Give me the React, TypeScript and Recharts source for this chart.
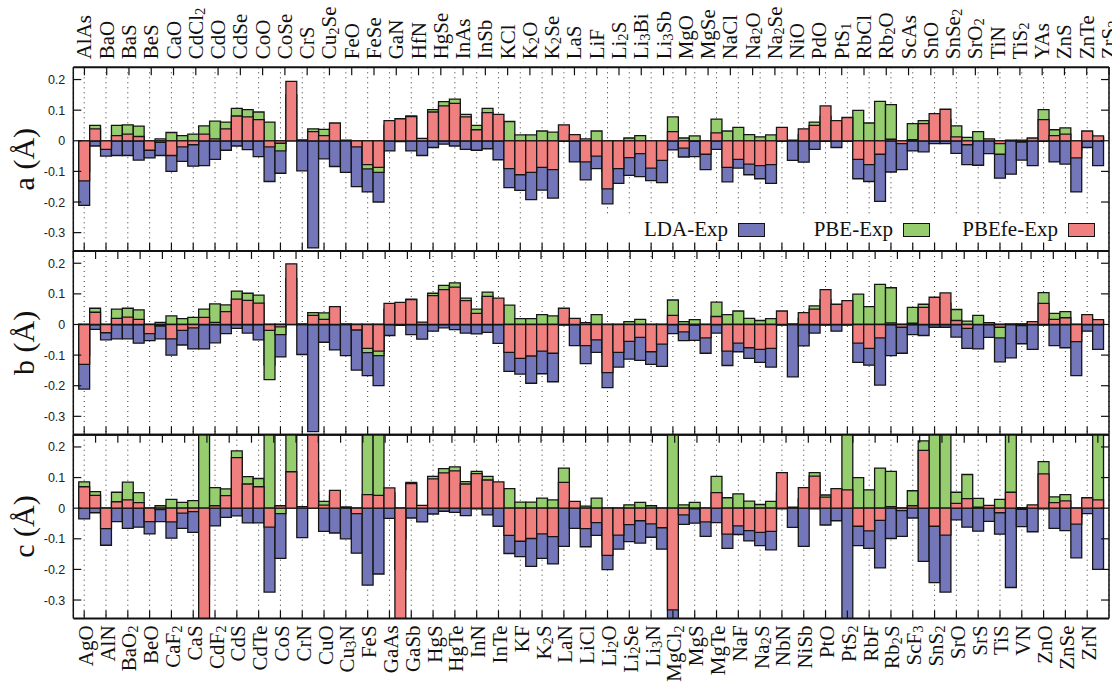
import { BarChart, Bar, XAxis, YAxis, CartesianGrid, Legend, Label } from 'recharts';

const COMPOUNDS = [
  'AgO', 'AlAs', 'AlN', 'BaO', 'BaO2', 'BaS', 'BeO', 'BeS', 'CaF2', 'CaO',
  'CaS', 'CdCl2', 'CdF2', 'CdO', 'CdS', 'CdSe', 'CdTe', 'CoO', 'CoS', 'CoSe',
  'CrN', 'CrS', 'CuO', 'Cu2Se', 'Cu3N', 'FeO', 'FeS', 'FeSe', 'GaAs', 'GaN',
  'GaSb', 'HfN', 'HgS', 'HgSe', 'HgTe', 'InAs', 'InN', 'InSb', 'InTe', 'KCl',
  'KF', 'K2O', 'K2S', 'K2Se', 'LaN', 'LaS', 'LiCl', 'LiF', 'Li2O', 'Li2S',
  'Li2Se', 'Li3Bi', 'Li3N', 'Li3Sb', 'MgCl2', 'MgO', 'MgS', 'MgSe', 'MgTe', 'NaCl',
  'NaF', 'Na2O', 'Na2S', 'Na2Se', 'NbN', 'NiO', 'NiSb', 'PdO', 'PtO', 'PtS1',
  'PtS2', 'RbCl', 'RbF', 'Rb2O', 'Rb2S', 'ScAs', 'ScF3', 'SnO', 'SnS2', 'SnSe2',
  'SrO', 'SrO2', 'SrS', 'TiN', 'TiS', 'TiS2', 'VN', 'YAs', 'ZnO', 'ZnS',
  'ZnSe', 'ZnTe', 'ZrN', 'ZrS2',
];

// panel a
const A_LDA = [
  -0.211, -0.017, -0.05, -0.048, -0.048, -0.063, -0.056, -0.048, -0.1, -0.067,
  -0.083, -0.081, -0.061, -0.031, -0.017, -0.029, -0.052, -0.133, -0.106, 0,
  -0.098, -0.35, -0.059, -0.084, -0.103, -0.15, -0.167, -0.2, -0.033, -0.003,
  -0.033, -0.048, -0.022, -0.011, -0.017, -0.028, -0.031, -0.026, -0.062, -0.153,
  -0.162, -0.192, -0.161, -0.187, -0.002, -0.069, -0.128, -0.091, -0.206, -0.139,
  -0.113, -0.117, -0.13, -0.137, -0.03, -0.053, -0.052, -0.094, -0.028, -0.134,
  -0.089, -0.111, -0.124, -0.139, -0.002, -0.064, -0.07, -0.028, -0.002, -0.022,
  -0.002, -0.124, -0.133, -0.198, -0.102, -0.094, -0.033, -0.036, -0.009, -0.009,
  -0.041, -0.078, -0.08, -0.042, -0.122, -0.109, -0.063, -0.081, -0.002, -0.069,
  -0.076, -0.167, -0.022, -0.081,
];
const A_PBE = [
  -0.1, 0.05, -0.02, 0.05, 0.052, 0.048, -0.02, 0.006, 0.027, 0.017,
  0.022, 0.049, 0.064, 0.061, 0.106, 0.102, 0.094, 0.061, -0.033, 0.15,
  0.003, 0.039, 0.037, 0.04, 0.002, -0.01, -0.092, -0.103, 0.05, 0.05,
  0.081, 0.005, 0.102, 0.128, 0.136, 0.086, 0.05, 0.106, 0.06, 0.063,
  0.019, 0.019, 0.032, 0.028, 0.03, 0.01, 0.006, 0.032, -0.1, -0.05,
  0.009, 0.017, -0.05, -0.03, 0.078, 0.009, 0.016, -0.02, 0.071, 0.032,
  0.044, 0.02, 0.013, 0.019, 0.02, 0.002, 0.02, 0.061, 0.08, 0.04,
  0.05, 0.099, 0.058, 0.129, 0.118, -0.005, 0.056, 0.066, 0.06, 0.07,
  0.049, 0.011, 0.03, 0.003, -0.044, 0.002, 0.002, 0.005, 0.102, 0.036,
  0.042, -0.03, 0.02, 0.01,
];
const A_PBEFE = [
  -0.131, 0.039, -0.028, 0.017, 0.022, 0.014, -0.031, -0.005, -0.048, -0.02,
  -0.013, 0.022, 0.006, 0.039, 0.081, 0.078, 0.069, -0.02, -0.008, 0.194,
  0, 0.03, 0.017, 0.058, 0, -0.02, -0.078, -0.087, 0.066, 0.072,
  0.079, 0.008, 0.094, 0.114, 0.122, 0.078, 0.036, 0.092, 0.086, -0.091,
  -0.111, -0.103, -0.087, -0.094, 0.052, 0.02, -0.069, -0.05, -0.157, -0.091,
  -0.055, -0.042, -0.089, -0.064, 0.03, -0.024, -0.002, -0.044, 0.026, -0.087,
  -0.061, -0.076, -0.081, -0.078, 0.044, 0, 0.039, 0.05, 0.114, 0.066,
  0.076, -0.061, -0.078, -0.044, 0.005, -0.009, 0.004, 0.056, 0.089, 0.103,
  0.013, -0.013, 0, 0.006, -0.009, 0, -0.004, 0.009, 0.069, 0.017,
  0.022, -0.056, 0.032, 0.016,
];

// panel b
const B_LDA = [
  -0.211, -0.016, -0.05, -0.047, -0.047, -0.061, -0.053, -0.047, -0.1, -0.067,
  -0.08, -0.08, -0.06, -0.03, -0.013, -0.028, -0.05, -0.133, -0.106, 0,
  -0.098, -0.35, -0.058, -0.083, -0.102, -0.149, -0.167, -0.2, -0.036, -0.003,
  -0.033, -0.048, -0.022, -0.011, -0.017, -0.028, -0.031, -0.026, -0.062, -0.153,
  -0.162, -0.192, -0.161, -0.187, -0.002, -0.069, -0.128, -0.091, -0.206, -0.139,
  -0.113, -0.117, -0.13, -0.137, -0.03, -0.053, -0.052, -0.094, -0.028, -0.134,
  -0.089, -0.111, -0.124, -0.139, -0.002, -0.171, -0.07, -0.028, -0.002, -0.022,
  -0.002, -0.124, -0.133, -0.198, -0.102, -0.094, -0.033, -0.036, -0.009, -0.009,
  -0.041, -0.078, -0.08, -0.042, -0.122, -0.109, -0.063, -0.081, -0.002, -0.069,
  -0.076, -0.167, -0.022, -0.081,
];
const B_PBE = [
  -0.1, 0.053, -0.02, 0.05, 0.053, 0.048, -0.02, 0.007, 0.028, 0.019,
  0.023, 0.05, 0.067, 0.064, 0.109, 0.102, 0.096, -0.18, -0.033, 0.15,
  0.002, 0.039, 0.038, 0.04, 0.002, -0.01, -0.092, -0.102, 0.05, 0.05,
  0.083, 0.005, 0.102, 0.128, 0.136, 0.086, 0.05, 0.106, 0.06, 0.063,
  0.019, 0.019, 0.032, 0.028, 0.03, 0.01, 0.006, 0.032, -0.1, -0.05,
  0.009, 0.017, -0.05, -0.03, 0.08, 0.009, 0.016, -0.02, 0.073, 0.032,
  0.044, 0.02, 0.013, 0.019, 0.02, 0.002, 0.02, 0.061, 0.08, 0.04,
  0.05, 0.099, 0.058, 0.131, 0.12, -0.005, 0.056, 0.066, 0.06, 0.07,
  0.049, 0.011, 0.03, 0.003, -0.044, 0.002, 0.002, 0.005, 0.104, 0.036,
  0.042, -0.03, 0.02, 0.01,
];
const B_PBEFE = [
  -0.13, 0.04, -0.027, 0.02, 0.024, 0.017, -0.03, -0.005, -0.047, -0.019,
  -0.011, 0.023, 0.007, 0.042, 0.083, 0.079, 0.07, -0.019, -0.008, 0.198,
  0, 0.03, 0.017, 0.058, 0, -0.018, -0.078, -0.087, 0.069, 0.072,
  0.081, 0.008, 0.094, 0.114, 0.122, 0.078, 0.036, 0.092, 0.086, -0.091,
  -0.111, -0.103, -0.087, -0.094, 0.053, 0.02, -0.069, -0.05, -0.157, -0.091,
  -0.055, -0.042, -0.089, -0.064, 0.03, -0.024, -0.002, -0.044, 0.026, -0.087,
  -0.061, -0.076, -0.081, -0.078, 0.044, 0, 0.039, 0.05, 0.114, 0.066,
  0.078, -0.061, -0.078, -0.044, 0.005, -0.009, 0.004, 0.056, 0.089, 0.103,
  0.013, -0.013, 0, 0.006, -0.009, 0, -0.004, 0.009, 0.069, 0.017,
  0.022, -0.056, 0.032, 0.016,
];

// panel c
const C_LDA = [
  -0.035, -0.015, -0.121, -0.044, -0.066, -0.062, -0.084, -0.044, -0.098, -0.066,
  -0.079, -0.25, -0.058, -0.03, -0.025, -0.048, -0.048, -0.274, -0.164, 0,
  -0.096, 0.05, -0.076, -0.081, -0.1, -0.147, -0.251, -0.215, -0.033, -0.1,
  -0.032, -0.045, -0.019, -0.01, -0.014, -0.024, -0.002, -0.022, -0.059, -0.148,
  -0.158, -0.19, -0.164, -0.182, -0.125, -0.066, -0.126, -0.089, -0.201, -0.134,
  -0.109, -0.114, -0.095, -0.134, -0.4, -0.053, -0.049, -0.092, -0.047, -0.131,
  -0.086, -0.107, -0.122, -0.136, -0.002, -0.063, -0.125, -0.002, -0.055, -0.041,
  -0.4, -0.122, -0.131, -0.195, -0.099, -0.092, -0.032, -0.174, -0.243, -0.274,
  -0.038, -0.062, -0.075, -0.043, -0.085, -0.259, -0.06, -0.077, -0.002, -0.066,
  -0.073, -0.162, -0.018, -0.2,
];
const C_PBE = [
  0.086, 0.054, -0.03, 0.052, 0.085, 0.051, -0.02, 0.008, 0.029, 0.019,
  0.025, 0.45, 0.067, 0.063, 0.187, 0.103, 0.097, 0.4, -0.018, 0.35,
  0.005, 0.15, 0.022, 0.04, 0.004, -0.01, 0.4, 0.4, 0.05, -0.2,
  0.084, 0.005, 0.104, 0.129, 0.135, 0.087, 0.12, 0.104, 0.06, 0.064,
  0.02, 0.02, 0.033, 0.027, 0.131, 0.01, 0.007, 0.033, -0.1, -0.05,
  0.011, 0.019, 0.008, -0.03, 0.4, 0.011, 0.019, -0.02, 0.104, 0.034,
  0.047, 0.023, 0.012, 0.022, 0.05, 0.003, 0.03, 0.116, 0.043, 0.03,
  0.4, 0.1, 0.06, 0.131, 0.12, -0.004, 0.057, 0.22, 0.4, 0.4,
  0.052, 0.11, 0.032, 0.005, 0.029, 0.4, 0.002, 0.006, 0.152, 0.037,
  0.044, -0.03, 0.02, 0.4,
];
const C_PBEFE = [
  0.07, 0.042, -0.067, 0.021, 0.027, 0.018, -0.044, -0.005, -0.045, -0.016,
  -0.011, -0.45, 0.008, 0.041, 0.165, 0.079, 0.07, -0.062, 0.008, 0.119,
  0, 0.4, 0.01, 0.058, 0, -0.018, 0.044, 0.042, 0.066, -0.45,
  0.08, 0.009, 0.096, 0.115, 0.122, 0.079, 0.113, 0.092, 0.086, -0.089,
  -0.108, -0.099, -0.084, -0.093, 0.084, 0.022, -0.067, -0.047, -0.154, -0.088,
  -0.054, -0.041, -0.051, -0.064, -0.332, -0.022, -0.002, -0.045, 0.051, -0.085,
  -0.058, -0.073, -0.079, -0.076, 0.116, 0, 0.067, 0.105, 0.036, 0.064,
  0.06, -0.059, -0.074, -0.04, 0.005, -0.008, 0.008, 0.189, -0.059, -0.088,
  0.016, 0.031, 0.003, 0.009, -0.015, 0.052, -0.004, 0.011, 0.112, 0.018,
  0.024, -0.052, 0.034, 0.027,
];

const Y_TICKS = [-0.3, -0.2, -0.1, 0, 0.1, 0.2];
const EVEN_TICKS = COMPOUNDS.map((_, i) => i).filter((i) => i % 2 === 0);
const ODD_TICKS = COMPOUNDS.map((_, i) => i).filter((i) => i % 2 === 1);

const W = 1112;
const H = 686;
const LEFT = 73.3;
const RIGHT = 3;
const PANEL_H = 183.7;
const BAND = (W - LEFT - RIGHT) / 95;
const BAR = BAND - 0.02;
const AX = 1; // axis box thickness (a zero-size axis is not drawn)

const BLUE = '#7376b9';
const GREEN = '#96cd6e';
const RED = '#f08080';
const SERIF = '"Liberation Serif", "Times New Roman", serif';
const SANS = '"Liberation Sans", Arial, sans-serif';

function FormulaText({ x, y, anchor, text, size }: any) {
  const parts = text.split(/(\d+)/).filter((p: string) => p.length);
  let shift = 0;
  return (
    <text
      transform={`translate(${x},${y}) rotate(-90)`}
      textAnchor={anchor}
      fontFamily={SERIF}
      fontSize={size}
      fill="#111"
    >
      {parts.map((p: string, k: number) => {
        const sub = /^\d+$/.test(p);
        const target = sub ? size * 0.1 : 0;
        const dy = target - shift;
        shift = target;
        return (
          <tspan key={k} dy={dy} fontSize={sub ? size * 0.7 : size}>
            {p}
          </tspan>
        );
      })}
    </text>
  );
}

function BottomTick(props: any) {
  const { x, y, payload, showLabel } = props;
  return (
    <g>
      <line x1={x} x2={x} y1={y} y2={y - 8} stroke="#111" strokeWidth={1.2} />
      {showLabel && (
        <FormulaText x={x + 8.5} y={y + 7} anchor="end" text={COMPOUNDS[payload.value]} size={21} />
      )}
    </g>
  );
}

function TopTick(props: any) {
  const { x, y, payload, showLabel } = props;
  return (
    <g>
      <line x1={x} x2={x} y1={y} y2={y + 8} stroke="#111" strokeWidth={1.2} />
      {showLabel && (
        <FormulaText x={x + 7} y={y - 8} anchor="start" text={COMPOUNDS[payload.value]} size={21} />
      )}
    </g>
  );
}

function fmtY(v: number) {
  const r = Math.round(v * 10) / 10;
  return r === 0 ? '0' : String(r);
}

function LeftTick(props: any) {
  const { x, y, payload } = props;
  return (
    <g>
      <line x1={x} x2={x + 8} y1={y} y2={y} stroke="#111" strokeWidth={1.2} />
      <text x={x - 8} y={y} dy="0.36em" textAnchor="end" fontFamily={SANS} fontSize={12.5} fill="#222">
        {fmtY(payload.value)}
      </text>
    </g>
  );
}

function RightTick(props: any) {
  const { x, y } = props;
  return <line x1={x} x2={x - 8} y1={y} y2={y} stroke="#111" strokeWidth={1.2} />;
}

function YTitle(props: any) {
  const vb = props.viewBox || { x: LEFT - AX, y: 0, width: AX, height: PANEL_H };
  const cy = vb.y + vb.height / 2;
  const ax = vb.x + (vb.width || 0);
  return (
    <text
      transform={`translate(${ax - 39},${cy}) rotate(-90)`}
      textAnchor="middle"
      fontFamily={SERIF}
      fontSize={30}
      fill="#111"
    >
      {props.text}
    </text>
  );
}

function LegendBox({ payload }: any) {
  return (
    <div
      style={{
        background: '#fff',
        width: 518,
        height: 25,
        display: 'flex',
        alignItems: 'center',
        paddingLeft: 10,
        boxSizing: 'border-box',
      }}
    >
      {(payload || []).map((e: any) => (
        <div
          key={e.value}
          style={{ width: 165, display: 'flex', justifyContent: 'flex-end', alignItems: 'center' }}
        >
          <span style={{ fontFamily: SERIF, fontSize: 21, color: '#111', marginRight: 10, lineHeight: '21px' }}>
            {e.value}
          </span>
          <span
            style={{
              display: 'inline-block',
              width: 27,
              height: 14,
              background: e.color,
              border: '1.3px solid #111',
              boxSizing: 'border-box',
            }}
          />
        </div>
      ))}
    </div>
  );
}

interface PanelProps {
  title: string;
  top: number;
  lda: number[];
  pbe: number[];
  pbefe: number[];
  topLabels?: boolean;
  bottomLabels?: boolean;
  legend?: boolean;
}

function Panel({ title, top, lda, pbe, pbefe, topLabels, bottomLabels, legend }: PanelProps) {
  const rows = COMPOUNDS.map((name, i) => ({
    idx: i,
    name,
    lda: lda[i],
    pbe: pbe[i],
    pbefe: pbefe[i],
  }));
  const bottom = H - top - PANEL_H;
  return (
    <div style={{ position: 'absolute', left: 0, top: 0 }}>
      <BarChart
        width={W}
        height={H}
        data={rows}
        margin={{ top: top - AX, right: RIGHT - AX, bottom: bottom - AX, left: LEFT - AX }}
        barSize={BAR}
        barGap={-BAR}
      >
        <CartesianGrid vertical horizontal={false} stroke="#333" strokeDasharray="1 4" />
        <XAxis
          dataKey="idx"
          type="number"
          domain={[-1, 94]}
          allowDataOverflow
          ticks={EVEN_TICKS}
          interval={0}
          height={AX}
          tickSize={0}
          tickMargin={0}
          tickLine={false}
          axisLine={{ stroke: '#111', strokeWidth: 2 }}
          tick={<BottomTick showLabel={!!bottomLabels} />}
        />
        <XAxis
          xAxisId="top"
          orientation="top"
          type="number"
          domain={[-1, 94]}
          allowDataOverflow
          ticks={topLabels ? ODD_TICKS : EVEN_TICKS}
          interval={0}
          height={AX}
          tickSize={0}
          tickMargin={0}
          tickLine={false}
          axisLine={{ stroke: '#111', strokeWidth: 2 }}
          tick={<TopTick showLabel={!!topLabels} />}
        />
        <YAxis
          type="number"
          domain={[-0.36, 0.24]}
          allowDataOverflow
          ticks={Y_TICKS}
          interval={0}
          width={AX}
          tickSize={0}
          tickMargin={0}
          tickLine={false}
          axisLine={{ stroke: '#111', strokeWidth: 1.5 }}
          tick={<LeftTick />}
        >
          <Label content={(p: any) => <YTitle {...p} text={title} />} />
        </YAxis>
        <YAxis
          yAxisId="r"
          orientation="right"
          type="number"
          domain={[-0.36, 0.24]}
          allowDataOverflow
          ticks={Y_TICKS}
          interval={0}
          width={AX}
          tickSize={0}
          tickMargin={0}
          tickLine={false}
          axisLine={{ stroke: '#111', strokeWidth: 1.5 }}
          tick={<RightTick />}
        />
        {legend && (
          <Legend
            layout="horizontal"
            verticalAlign="middle"
            align="center"
            content={<LegendBox />}
            wrapperStyle={{ position: 'absolute', left: 590, top: 217, width: 518, height: 25 }}
          />
        )}
        <Bar dataKey="lda" name="LDA-Exp" fill={BLUE} stroke="#151515" strokeWidth={1.3} isAnimationActive={false} />
        <Bar dataKey="pbe" name="PBE-Exp" fill={GREEN} stroke="#151515" strokeWidth={1.3} isAnimationActive={false} />
        <Bar dataKey="pbefe" name="PBEfe-Exp" fill={RED} stroke="#151515" strokeWidth={1.3} isAnimationActive={false} />
      </BarChart>
    </div>
  );
}

export default function App() {
  return (
    <div style={{ position: 'absolute', left: 0, top: 0, width: W, height: H, background: '#fff' }}>
      <Panel title="a (Å)" top={67.3} lda={A_LDA} pbe={A_PBE} pbefe={A_PBEFE} topLabels legend />
      <Panel title="b (Å)" top={67.3 + PANEL_H} lda={B_LDA} pbe={B_PBE} pbefe={B_PBEFE} />
      <Panel title="c (Å)" top={67.3 + 2 * PANEL_H} lda={C_LDA} pbe={C_PBE} pbefe={C_PBEFE} bottomLabels />
    </div>
  );
}
